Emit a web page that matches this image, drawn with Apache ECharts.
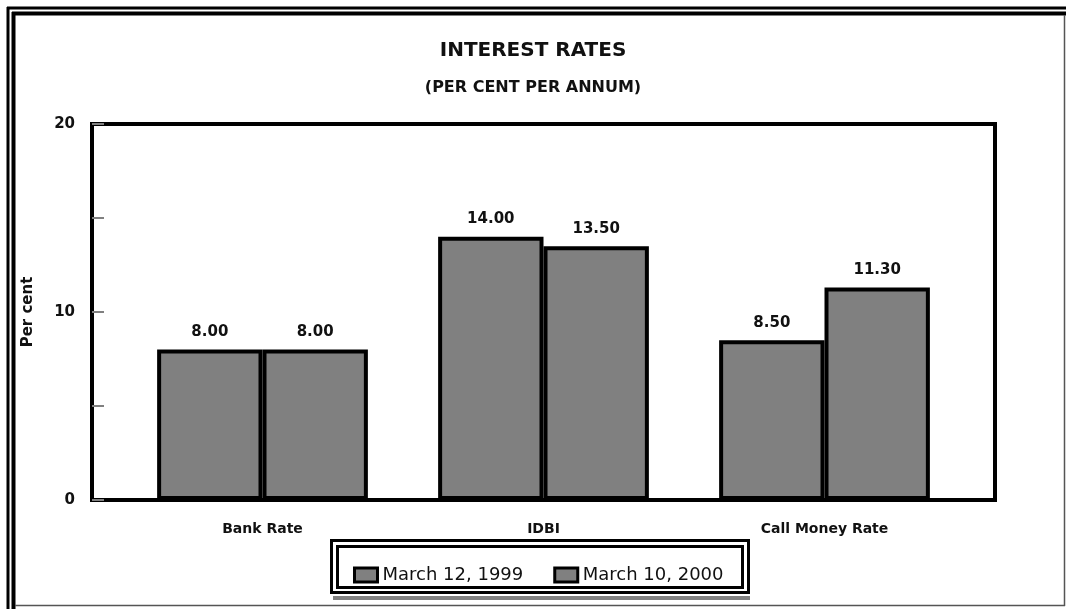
<!DOCTYPE html>
<html>
<head>
<meta charset="utf-8">
<script src="https://cdn.jsdelivr.net/npm/echarts@6/dist/echarts.min.js"></script>
<style>
html, body { margin: 0; padding: 0; background: #fff; }
#echart { width: 1066px; height: 609px; }
</style>
</head>
<body>
<div id="echart"></div>
<script>
var categories = ['Bank Rate', 'IDBI', 'Call Money Rate'];
var seriesNames = ['March 12, 1999', 'March 10, 2000'];
var rates1999 = [8.00, 14.00, 8.50];
var rates2000 = [8.00, 13.50, 11.30];
var yTicks = [0, 10, 20];

var font = 'DejaVu Sans';
var myChart = echarts.init(document.getElementById('echart'));

function barSeries(name, data) {
    return {
        name: name,
        type: 'bar',
        xAxisIndex: 0,
        yAxisIndex: 0,
        barWidth: '37.5%',
        barGap: '0%',
        data: data,
        itemStyle: {
            color: '#808080',
            borderColor: '#000',
            borderWidth: 4
        },
        label: {
            show: true,
            position: 'top',
            distance: 10,
            formatter: function (p) { return p.value.toFixed(2); },
            fontFamily: font,
            fontSize: 15,
            fontWeight: 'bold',
            color: '#111'
        },
        emphasis: { disabled: true }
    };
}

var option = {
    animation: false,
    title: {
        text: 'INTEREST RATES',
        subtext: '(PER CENT PER ANNUM)',
        left: 'center',
        top: 36,
        itemGap: 19,
        textStyle: { fontFamily: font, fontSize: 20, fontWeight: 'bold', color: '#111' },
        subtextStyle: { fontFamily: font, fontSize: 16, fontWeight: 'bold', color: '#111' }
    },
    legend: {
        data: seriesNames,
        left: 348,
        top: 561,
        icon: 'rect',
        itemWidth: 23,
        itemHeight: 14,
        itemGap: 30,
        itemStyle: { color: '#808080', borderColor: '#000', borderWidth: 3 },
        textStyle: { fontFamily: font, fontSize: 18, color: '#111' }
    },
    grid: [
        // bars
        { left: 122, right: 101, top: 124, bottom: 109 },
        // plot frame
        { left: 92, right: 71, top: 124, bottom: 109, show: true, borderColor: '#000', borderWidth: 4 }
    ],
    xAxis: [
        {
            type: 'category',
            gridIndex: 0,
            data: categories,
            axisLine: { show: false },
            axisTick: { show: false },
            axisLabel: {
                margin: 22,
                fontFamily: font,
                fontSize: 14,
                fontWeight: 'bold',
                color: '#111'
            }
        },
        { type: 'value', gridIndex: 1, show: false }
    ],
    yAxis: [
        {
            type: 'value',
            gridIndex: 0,
            min: 0,
            max: 20,
            interval: 5,
            offset: 30,
            name: 'Per cent',
            nameLocation: 'middle',
            nameGap: 56,
            nameTextStyle: { fontFamily: font, fontSize: 15, fontWeight: 'bold', color: '#111' },
            axisLine: { show: false },
            axisTick: { show: true, inside: true, length: 12, lineStyle: { color: '#808080', width: 2 } },
            splitLine: { show: false },
            axisLabel: {
                margin: 17,
                fontFamily: font,
                fontSize: 15,
                fontWeight: 'bold',
                color: '#111',
                formatter: function (v) { return yTicks.indexOf(v) >= 0 ? String(v) : ''; }
            }
        },
        { type: 'value', gridIndex: 1, show: false }
    ],
    graphic: [
        { type: 'line', shape: { x1: 8, y1: 7, x2: 8, y2: 609 }, style: { stroke: '#000', lineWidth: 3 } },
        { type: 'line', shape: { x1: 13.5, y1: 12, x2: 13.5, y2: 609 }, style: { stroke: '#000', lineWidth: 4 } },
        { type: 'line', shape: { x1: 7, y1: 8, x2: 1066, y2: 8 }, style: { stroke: '#000', lineWidth: 3 } },
        { type: 'line', shape: { x1: 12, y1: 13.5, x2: 1066, y2: 13.5 }, style: { stroke: '#000', lineWidth: 4 } },
        { type: 'line', shape: { x1: 1064.5, y1: 15, x2: 1064.5, y2: 606 }, style: { stroke: '#555', lineWidth: 1.5 } },
        { type: 'line', shape: { x1: 15, y1: 605.5, x2: 1065, y2: 605.5 }, style: { stroke: '#555', lineWidth: 1.5 } },
        // legend frame
        { type: 'rect', shape: { x: 333, y: 596, width: 417, height: 4 }, style: { fill: '#808080' } },
        { type: 'rect', shape: { x: 331.5, y: 540.5, width: 417, height: 52 }, style: { fill: 'none', stroke: '#000', lineWidth: 3 } },
        { type: 'rect', shape: { x: 337.5, y: 546.5, width: 405, height: 41 }, style: { fill: 'none', stroke: '#000', lineWidth: 3 } }
    ],
    series: [
        barSeries(seriesNames[0], rates1999),
        barSeries(seriesNames[1], rates2000)
    ]
};
myChart.setOption(option);
</script>
</body>
</html>
